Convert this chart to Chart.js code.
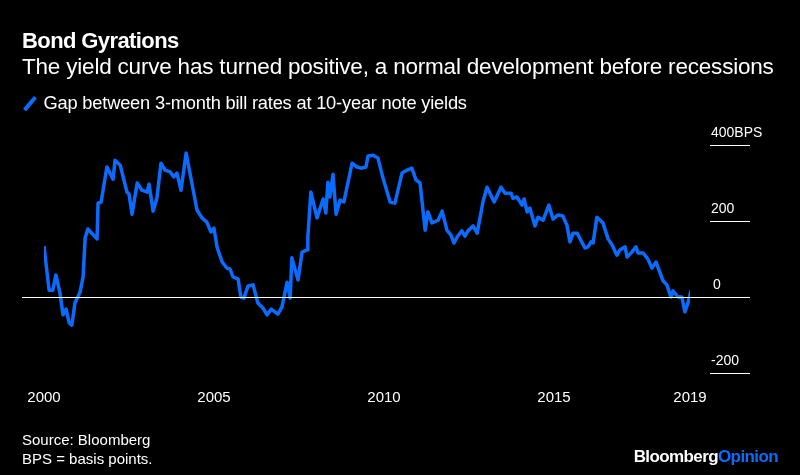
<!DOCTYPE html>
<html>
<head>
<meta charset="utf-8">
<script src="https://cdn.jsdelivr.net/npm/chart.js@4"></script>
<style>
  body { margin: 0; background: #000; width: 800px; height: 475px; overflow: hidden; font-family: "Liberation Sans", Arial, sans-serif; color: #fff; }
  .wrap { position: relative; width: 800px; height: 475px; }
  canvas { position: absolute; left: 0; top: 0; }
  .title { position: absolute; left: 22px; top: 28px; font-size: 22px; font-weight: bold; letter-spacing: -0.6px; }
  .sub { position: absolute; left: 22px; top: 54px; font-size: 22.5px; letter-spacing: -0.2px; }
  .legend { position: absolute; left: 22px; top: 92px; font-size: 18.3px; letter-spacing: -0.2px; }
  .legend i { display: inline-block; width: 3.5px; height: 17px; background: #0a6cff; transform: rotate(40deg); margin: 0 12px -3px 6px; border-radius: 1px; }
  .src { position: absolute; left: 22px; top: 430px; font-size: 15px; line-height: 19px; }
  .logo { position: absolute; right: 22px; top: 447px; font-size: 17px; font-weight: bold; letter-spacing: -0.6px; }
  .logo span { color: #0a6cff; }
</style>
</head>
<body>
<div class="wrap">
  <canvas id="myChart" width="800" height="475"></canvas>
  <div class="title">Bond Gyrations</div>
  <div class="sub">The yield curve has turned positive, a normal development before recessions</div>
  <div class="legend"><i></i>Gap between 3-month bill rates at 10-year note yields</div>
  <div class="src">Source: Bloomberg<br>BPS = basis points.</div>
  <div class="logo">Bloomberg<span>Opinion</span></div>
</div>
<script>
'use strict'

// [years since 2000, spread in bps]
const spread = [
  [0, 134], [0.15, 18], [0.26, 18], [0.35, 58], [0.47, 10], [0.56, -47], [0.65, -32], [0.74, -68],
  [0.82, -74], [0.91, -16], [1.06, 13], [1.15, 53], [1.21, 155], [1.29, 179], [1.56, 153], [1.59, 247],
  [1.68, 250], [1.85, 342], [2.03, 310], [2.09, 360], [2.24, 347], [2.44, 276], [2.5, 271], [2.59, 218],
  [2.74, 300], [2.88, 281], [3.03, 276], [3.09, 297], [3.21, 226], [3.32, 260], [3.44, 352], [3.56, 334],
  [3.71, 329], [3.82, 316], [3.91, 326], [4.03, 281], [4.18, 379], [4.5, 229], [4.65, 208], [4.79, 197],
  [4.91, 171], [5, 181], [5.09, 131], [5.24, 92], [5.38, 76], [5.47, 74], [5.56, 53], [5.71, 47],
  [5.79, 0], [5.88, -3], [6, 29], [6.15, 32], [6.29, -16], [6.44, -29], [6.56, -47], [6.68, -32],
  [6.88, -45], [7, -26], [7.15, 39], [7.24, -3], [7.29, 103], [7.47, 45], [7.59, 118], [7.74, 124],
  [7.76, 158], [7.85, 276], [8.03, 208], [8.21, 258], [8.29, 221], [8.35, 302], [8.41, 263], [8.5, 323],
  [8.59, 218], [8.71, 255], [8.82, 250], [9.06, 352], [9.21, 342], [9.32, 339], [9.47, 342], [9.53, 371],
  [9.68, 373], [9.82, 366], [9.97, 313], [10.18, 250], [10.32, 247], [10.53, 326], [10.68, 334],
  [10.82, 339], [10.94, 308], [11.06, 300], [11.21, 176], [11.29, 224], [11.41, 195], [11.59, 202],
  [11.71, 226], [11.85, 176], [11.97, 163], [12.06, 142], [12.15, 158], [12.29, 174], [12.38, 160],
  [12.47, 174], [12.62, 187], [12.74, 168], [12.91, 250], [13.03, 289], [13.24, 250], [13.44, 289],
  [13.56, 273], [13.74, 273], [13.79, 260], [13.91, 263], [14.06, 242], [14.12, 258], [14.21, 224],
  [14.29, 234], [14.44, 187], [14.53, 210], [14.68, 202], [14.85, 242], [14.97, 205], [15.12, 216],
  [15.26, 213], [15.38, 189], [15.47, 145], [15.56, 168], [15.68, 168], [15.91, 129], [16, 132],
  [16.09, 145], [16.15, 142], [16.26, 210], [16.44, 195], [16.59, 153], [16.71, 137], [16.85, 110],
  [16.94, 124], [17.09, 132], [17.15, 105], [17.29, 118], [17.41, 132], [17.47, 116], [17.62, 116],
  [17.76, 100], [17.88, 76], [18, 92], [18.21, 42], [18.32, 32], [18.44, 0], [18.5, 16], [18.65, 0],
  [18.76, 0], [18.85, -39], [18.94, -16], [19.03, 18]
]

const points = spread.map(([t, v]) => ({ x: 2000 + t, y: v }))

// right-hand labels and short gridlines, plus the full-width zero line
const rightAxis = {
  id: 'rightAxis',
  afterDraw: (chart) => {
    const c = chart.ctx
    const y = chart.scales.y
    c.save()
    c.font = '14px "Liberation Sans", Arial, sans-serif'
    c.fillStyle = '#ffffff'
    c.textBaseline = 'alphabetic'
    ;[[400, '400BPS'], [200, '200'], [0, '0'], [-200, '-200']].forEach(([v, txt]) => {
      const py = Math.round(y.getPixelForValue(v)) + 0.5
      c.strokeStyle = '#ffffff'
      c.lineWidth = 1
      c.beginPath()
      c.moveTo(v === 0 ? 22 : 710, py)
      c.lineTo(750, py)
      c.stroke()
      c.fillText(txt, v === 0 ? 713 : 711, py - 9)
    })
    c.restore()
  }
}

const myChart = new Chart(document.getElementById('myChart'), {
  type: 'line',
  data: {
    datasets: [{
      data: points,
      borderColor: '#0a6cff',
      borderWidth: 3.5,
      pointRadius: 0,
      tension: 0,
      borderJoinStyle: 'round'
    }]
  },
  options: {
    responsive: false,
    animation: false,
    layout: { padding: { left: 44, right: 110, top: 145, bottom: 62 } },
    plugins: { legend: { display: false }, tooltip: { enabled: false } },
    scales: {
      x: {
        type: 'linear',
        min: 2000,
        max: 2019,
        afterBuildTicks: (axis) => { axis.ticks = [2000, 2005, 2010, 2015, 2019].map(v => ({ value: v })) },
        afterFit: (axis) => { axis.height = 40 },
        grid: { display: false },
        border: { display: false },
        ticks: {
          color: '#ffffff',
          padding: 8,
          maxRotation: 0,
          font: { family: '"Liberation Sans", Arial, sans-serif', size: 15 },
          callback: (v) => String(v)
        }
      },
      y: {
        display: false,
        min: -200,
        max: 400
      }
    }
  },
  plugins: [rightAxis]
})
</script>
</body>
</html>
